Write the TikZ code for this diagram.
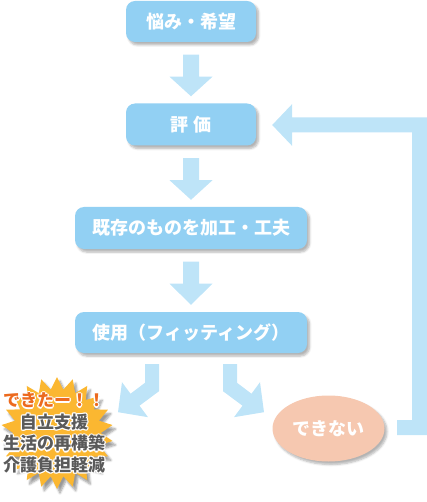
\documentclass[tikz,border=0pt]{standalone}
\usepackage{fontspec}
\setmainfont{Noto Sans CJK JP}
\usetikzlibrary{shapes.geometric,shadows.blur,calc}
\definecolor{boxc}{HTML}{92D0F3}
\definecolor{arrc}{HTML}{BEE4F8}
\definecolor{ngc}{HTML}{F6C8B0}
\definecolor{starc}{HTML}{FBB731}
\definecolor{okc}{HTML}{EC6A1E}
\definecolor{grayt}{HTML}{5A5A5A}
\newcommand\wcp[3]{\rlap{\kern#1\raisebox{#2}{\textcolor{white}{#3}}}}
\newcommand\halo[1]{\leavevmode\wcp{-1.3pt}{0pt}{#1}\wcp{1.3pt}{0pt}{#1}\wcp{0pt}{1.3pt}{#1}\wcp{0pt}{-1.3pt}{#1}\wcp{-0.9pt}{0.9pt}{#1}\wcp{0.9pt}{0.9pt}{#1}\wcp{-0.9pt}{-0.9pt}{#1}\wcp{0.9pt}{-0.9pt}{#1}#1}
\begin{document}
\begin{tikzpicture}[x=1pt,y=-1pt,
  softshadow/.style={blur shadow={shadow xshift=2.5pt,shadow yshift=-3pt,shadow blur steps=6,shadow opacity=30}},
  flowbox/.style={rounded corners=9pt,fill=boxc,text=white,inner sep=0pt,
    font=\fontsize{18}{20}\selectfont\bfseries,minimum height=41pt,softshadow},
  blockarrow/.style={fill=arrc,draw=none},
  startext/.style={align=center,font=\fontsize{17}{21.5}\selectfont\bfseries,text=grayt,inner sep=0pt}]
\useasboundingbox (0,0) rectangle (427,502);

\node[flowbox,minimum width=130pt] (b1) at (191,21.5) {悩み・希望};
\node[flowbox,minimum width=130pt,minimum height=42pt] (b2) at (191,124.5) {評\hspace{6pt}価};
\node[flowbox,minimum width=232pt,minimum height=42pt] (b3) at (191,228) {既存のものを加工・工夫};
\node[flowbox,minimum width=232pt] (b4) at (191,332.5) {使用（フィッティング）};
\node[ellipse,fill=ngc,minimum width=112pt,minimum height=66pt,inner sep=0pt,softshadow,
  text=white,font=\fontsize{18}{20}\selectfont\bfseries] (ng) at (328.5,428.5) {できない};
\node[star,star points=22,star point ratio=1.28,minimum size=112pt,inner sep=0pt,fill=starc,
  blur shadow={shadow xshift=3pt,shadow yshift=-4pt,shadow blur steps=6,shadow opacity=40}] (st) at (57,433) {};
\node[startext] (sttext) at (54,433) {\textcolor{okc}{\halo{できたー！！}}\\\halo{自立支援}\\\halo{生活の再構築}\\\halo{介護負担軽減}};

% vertical block arrows
\foreach \a/\b in {b1/b2,b2/b3,b3/b4}{
  \fill[blockarrow] ($(\a.south)+(-8,12.5)$) -- ++(16,0) -- ++(0,22) -- ++(13.5,0)
    -- ($(\b.north)+(0,-7)$) -- ($(\a.south)+(-21.5,34.5)$) -- ++(13.5,0) -- cycle;
}

% diagonal arrows from b4
\fill[blockarrow] ($(b4.south)+(-46,11)$) -- ++(14,0) -- ++(0,27) -- ++(-19.5,14.5)
  -- ++(8.5,11.5) -- ++(-30,-5) -- ++(4,-30) -- ++(8.5,11.5) -- ++(14.5,-10.9) -- cycle;
\fill[blockarrow] ($(b4.south)+(46,11)$) -- ++(-14,0) -- ++(0,27) -- ++(19.5,14.5)
  -- ++(-8.5,11.5) -- ++(30,-5) -- ++(-4,-30) -- ++(-8.5,11.5) -- ++(-14.5,-10.9) -- cycle;

% feedback arrow from "できない" back to b2
\coordinate (fbstart) at ($(ng.east)+(12.5,-1)$);
\coordinate (fbtip) at ($(b2.east)+(16,0.5)$);
\fill[blockarrow] ($(fbstart)+(0,-7.5)$) -- ++(15,0) |- ($(fbtip)+(20,7.5)$) -- ++(0,13.5)
  -- (fbtip) -- ++(20,-21) -- ++(0,13.5) -- ++(135,0) |- ($(fbstart)+(0,7.5)$) -- cycle;
\end{tikzpicture}
\end{document}
